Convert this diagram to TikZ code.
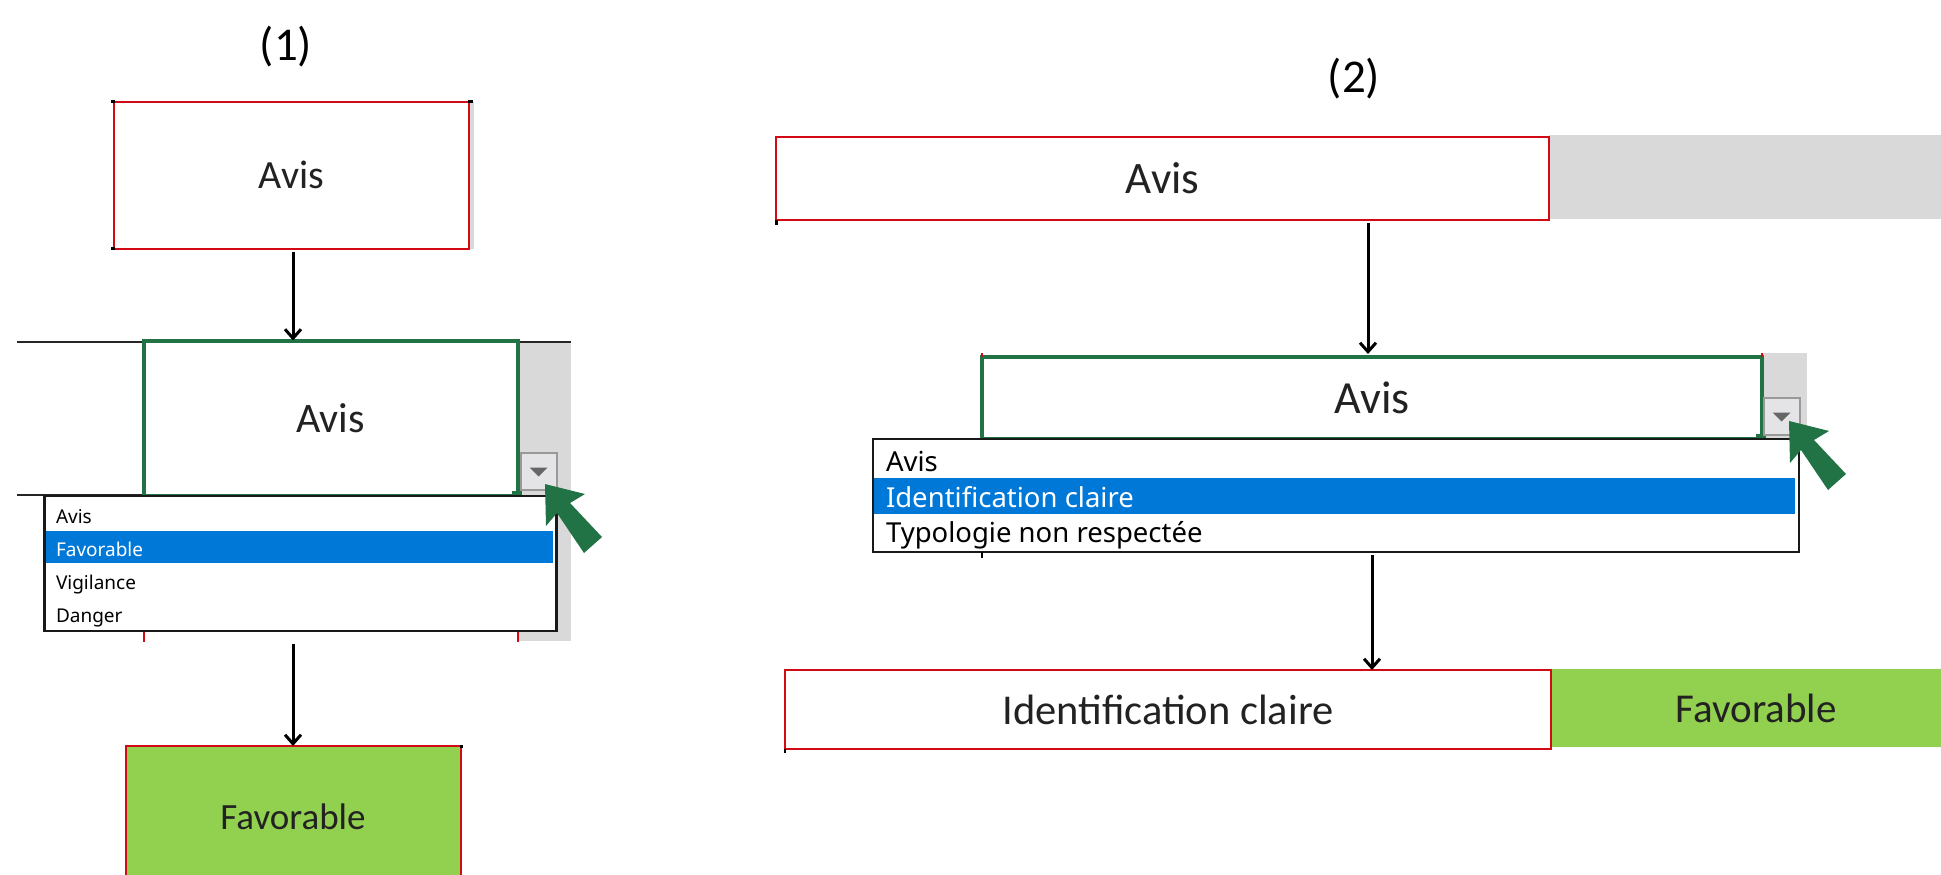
\documentclass[tikz,border=0pt]{standalone}
\usepackage{fontspec}
\usetikzlibrary{arrows.meta}
\setmainfont{Carlito}
\newfontfamily\listefont{Noto Sans}
\definecolor{rouge}{HTML}{D20A14}
\definecolor{vert}{HTML}{217346}
\definecolor{gris}{HTML}{D9D9D9}
\definecolor{bleu}{HTML}{0078D7}
\definecolor{feuille}{HTML}{92D050}
\definecolor{encre}{HTML}{222222}
\tikzset{
  >={Straight Barb[length=9pt,width=16pt]},
  pave/.style={inner sep=0pt, outer sep=0pt, text=encre},
  rouge box/.style={pave, draw=rouge, line width=2pt, fill=white},
  vert box/.style={pave, draw=vert, line width=4pt, fill=white},
  gris box/.style={pave, fill=gris},
  feuille box/.style={pave, fill=feuille},
  liste box/.style={pave, draw=black!90, line width=2.5pt, fill=white},
  select box/.style={pave, fill=bleu},
  bouton/.style={pave, draw=gray!80, line width=2pt, fill=blue!6!gray!20, minimum width=36pt, minimum height=37pt},
  item/.style={pave, anchor=west, text=black, font=\listefont\fontsize{19}{19}\selectfont},
  grand item/.style={item, font=\listefont\fontsize{27.5}{27.5}\selectfont},
  fleche/.style={->, line width=3pt, shorten <=3pt},
  ligne/.style={line width=2.5pt, draw=black!85},
  coin/.style={line width=3pt, draw=black},
  curseur/.style={fill=vert},
  triangle/.style={fill=black!60}
}
\begin{document}
\begin{tikzpicture}[x=1pt, y=-1pt]
  \useasboundingbox (0,0) rectangle (1941,875);

  % Titles
  \node[pave, text=black, font=\fontsize{47}{47}\selectfont] (titre1) at (286,47) {(1)};
  \node[pave, text=black, font=\fontsize{47}{47}\selectfont] (titre2) at (1354,79) {(2)};

  % First column: header cell
  \node[gris box, minimum width=360pt, minimum height=147pt] (fond1) at (294,175) {};
  \node[rouge box, minimum width=355pt, minimum height=147pt, font=\fontsize{40}{40}\selectfont] (avis1) at (291.5,175) {Avis};
  \draw[coin] ([xshift=-3pt]avis1.north west) -- ++(4,0);
  \draw[coin] ([xshift=-3pt]avis1.south west) -- ++(4,0);
  \draw[coin] ([xshift=-1pt]avis1.north east) -- ++(5,0);

  % First column: filter cell
  \node[gris box, minimum width=54pt, minimum height=299pt] (fond2) at (544,491.5) {};
  \draw[ligne] (17,342) -- (571,342);
  \draw[ligne] (17,495) -- (517,495);
  \node[vert box, minimum width=374pt, minimum height=155pt, font=\fontsize{42}{42}\selectfont] (filtre1) at (330.5,418) {Avis};
  \draw[rouge, line width=2pt] (filtre1.south west) -- ++(0,146);
  \draw[rouge, line width=2pt] (filtre1.south east) -- ++(0,146);
  \fill[vert] ([xshift=-6pt,yshift=5pt]filtre1.south east) rectangle ++(10,8);
  \node[bouton] (bouton1) at (538.5,471.5) {};
  \fill[triangle] ([xshift=-9pt,yshift=4pt]bouton1.center) -- ++(18,0) -- ++(-9,9) -- cycle;

  % First column: list
  \node[liste box, minimum width=512pt, minimum height=135pt] (liste1) at (300.5,563.5) {};
  \node[select box, minimum width=507pt, minimum height=32pt] (sel1) at (299.5,547) {};
  \node[item] (i11) at (56,517) {Avis};
  \node[item, text=white] (i12) at (56,549) {Favorable};
  \node[item] (i13) at (56,585) {Vigilance};
  \node[item] (i14) at (56,618) {Danger};
  \fill[curseur] (545,484) -- ++(40,10) -- ++(-15,9) -- ++(32,34) -- ++(-18,16) -- ++(-27,-40) -- ++(-11,13) -- cycle;

  % First column: result
  \node[feuille box, minimum width=335pt, minimum height=141pt, font=\fontsize{37}{37}\selectfont] (fav1) at (293,816.5) {Favorable};
  \draw[rouge, line width=2pt] (fav1.south west) -- (fav1.north west) -- (fav1.north east) -- (fav1.south east);
  \draw[coin] ([xshift=-1pt]fav1.north east) -- ++(3,0);

  % First column: edges
  \draw[fleche] (avis1.south -| fav1.north) -- (filtre1.north -| fav1.north);
  \draw[fleche] (fond2.south -| fav1.north) -- (fav1.north);

  % Second column: header cell
  \node[gris box, minimum width=392pt, minimum height=84pt] (fond3) at (1745,177) {};
  \node[rouge box, minimum width=773pt, minimum height=83pt, font=\fontsize{45}{45}\selectfont] (avis2) at (1162.5,178.5) {Avis};
  \draw[coin] (avis2.south west) -- ++(0,5);

  % Second column: filter cell
  \node[gris box, minimum width=45pt, minimum height=85pt] (fond4) at (1784.5,395.5) {};
  \node[vert box, minimum width=780pt, minimum height=82pt, font=\fontsize{46}{46}\selectfont] (filtre2) at (1372,398) {Avis};
  \draw[rouge, line width=2pt] (filtre2.north west) -- ++(0,-4);
  \draw[rouge, line width=2pt] (filtre2.north east) -- ++(0,-4);
  \fill[vert] ([xshift=-6pt,yshift=5pt]filtre2.south east) rectangle ++(10,8);
  \node[bouton] (bouton2) at (1781.5,416.5) {};
  \fill[triangle] ([xshift=-9pt,yshift=4pt]bouton2.center) -- ++(18,0) -- ++(-9,9) -- cycle;

  % Second column: list
  \node[liste box, minimum width=926pt, minimum height=113pt] (liste2) at (1336,495.5) {};
  \node[select box, minimum width=921pt, minimum height=36pt] (sel2) at (1334.5,496) {};
  \node[grand item] (i21) at (886,461) {Avis};
  \node[grand item, text=white] (i22) at (886,497) {Identification claire};
  \node[grand item] (i23) at (886,535) {Typologie non respectée};
  \draw[coin, line width=2pt] (liste2.south -| filtre2.south west) -- ++(0,6);
  \fill[curseur] (1789,421) -- ++(40,10) -- ++(-15,9) -- ++(32,34) -- ++(-18,16) -- ++(-27,-40) -- ++(-11,13) -- cycle;

  % Second column: result
  \node[feuille box, minimum width=410pt, minimum height=78pt, font=\fontsize{41}{41}\selectfont] (fav2) at (1756,708) {Favorable};
  \node[rouge box, minimum width=766pt, minimum height=79pt, font=\fontsize{42.5}{42.5}\selectfont] (clair2) at (1168,709.5) {Identification claire};
  \draw[coin, line width=2pt] (clair2.south west) -- ++(0,4);

  % Second column: edges
  \draw[fleche] ([xshift=-4pt]avis2.south -| filtre2.north) -- ([xshift=-4pt,yshift=3pt]filtre2.north);
  \draw[fleche] (liste2.south -| filtre2.north) -- (clair2.north -| filtre2.north);
\end{tikzpicture}
\end{document}
